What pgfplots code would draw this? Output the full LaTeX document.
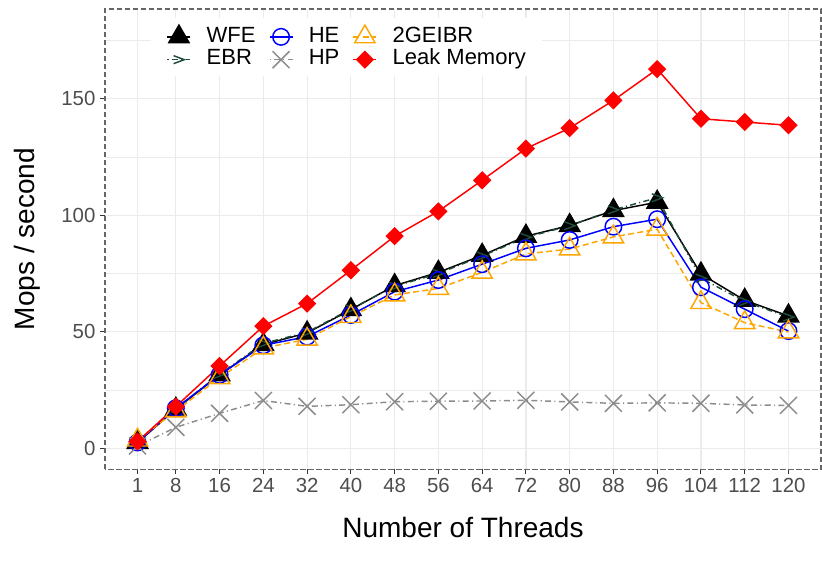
\documentclass[border=0pt]{standalone}
\usepackage{fontspec}
\setmainfont{Liberation Sans}
\usepackage{pgfplots}
\pgfplotsset{compat=1.18}

\definecolor{ticklab}{HTML}{4D4D4D}
\definecolor{gridc}{HTML}{EBEBEB}
\definecolor{ebrgreen}{HTML}{1E4D3B}
\definecolor{hpgray}{HTML}{8C8C8C}
\definecolor{gorange}{HTML}{FFA500}

% open ">" marker for EBR
\pgfdeclareplotmark{chevron}{%
  \pgfpathmoveto{\pgfqpoint{-\pgfplotmarksize}{0.75\pgfplotmarksize}}%
  \pgfpathlineto{\pgfqpoint{\pgfplotmarksize}{0pt}}%
  \pgfpathlineto{\pgfqpoint{-\pgfplotmarksize}{-0.75\pgfplotmarksize}}%
  \pgfusepathqstroke}

\pgfplotsset{
  wfe/.style={black, line width=1.1pt, mark=triangle*, mark size=8.8pt, mark options={solid, fill=black}},
  ebr/.style={ebrgreen, line width=1.1pt, dash pattern=on 0.8pt off 2.5pt on 4.5pt off 2.5pt, mark=chevron, mark size=4pt, mark options={solid}},
  he/.style={blue, line width=1.1pt, mark=o, mark size=6.2pt, mark options={solid}},
  hp/.style={hpgray, line width=1.1pt, dash pattern=on 0.8pt off 2.5pt on 4.5pt off 2.5pt, mark=x, mark size=9pt, mark options={solid}},
  geibr/.style={gorange, line width=1.1pt, dash pattern=on 4.5pt off 2.5pt, mark=triangle, mark size=8.8pt, mark options={solid}},
  leak/.style={red, line width=1.1pt, mark=square*, mark size=4.3pt, mark options={solid, rotate=45, fill=red}},
}

\begin{document}
\begin{tikzpicture}
\begin{axis}[
  scale only axis, width=537pt, height=345.2pt,
  xmin=-4.95, xmax=125.95, ymin=-9, ymax=188.5,
  axis line style={draw=black!60, line width=0.8pt, dash pattern=on 3.8pt off 2.2pt},
  xtick={1,8,16,24,32,40,48,56,64,72,80,88,96,104,112,120},
  ytick={0,50,100,150}, minor ytick={25,75,125,175},
  xtick pos=left, ytick pos=left,
  tick align=outside, major tick length=3.4pt, minor tick length=0pt,
  tick style={draw=black!80, line width=0.8pt, solid},
  grid=both,
  major grid style={gridc, line width=0.9pt, solid},
  minor grid style={gridc, line width=0.55pt, solid},
  /pgf/number format/assume math mode=true,
  ticklabel style={font=\fontsize{15.3}{18}\selectfont, text=ticklab, inner sep=0pt},
  xticklabel style={anchor=north, yshift=-3.3pt},
  yticklabel style={anchor=east, xshift=-3.6pt},
  xlabel={Number of Threads}, ylabel={Mops / second},
  every axis x label/.style={at={(rel axis cs:0.5,0)}, yshift=-51.5pt, anchor=base, font=\fontsize{21}{24}\selectfont},
  every axis y label/.style={at={(rel axis cs:0,0.5)}, xshift=-52.5pt, anchor=base, rotate=90, font=\fontsize{21}{24}\selectfont},
  legend columns=3,
  legend image code/.code={\draw[mark repeat=2, mark phase=2, #1] plot coordinates {(0pt,0pt) (8.6pt,0pt) (17.25pt,0pt)};},
  legend cell align=left,
  legend style={at={(rel axis cs:0,1)}, anchor=north west, xshift=34.1pt, yshift=-6.9pt,
    draw=none, fill=white, inner xsep=12pt, inner ysep=5pt,
    font=\fontsize{16.5}{18}\selectfont,
    nodes={inner sep=0pt, text height=11.5pt, text depth=3.5pt},
    column sep=11.6pt, row sep=2.1pt,
    /tikz/every even column/.append style={column sep=10pt}},
]
\coordinate (sw) at (rel axis cs:0,0);
\coordinate (ne) at (rel axis cs:1,1);

\addplot[wfe, forget plot] coordinates {(1,2.5) (8,16.8) (16,31.5) (24,44.5) (32,49.5) (40,59.5) (48,69.8) (56,75.5) (64,82.8) (72,91) (80,95.6) (88,102) (96,105.6) (104,74.8) (112,63.5) (120,56.8)};
\addplot[ebr, forget plot] coordinates {(1,2.5) (8,17) (16,31.8) (24,45) (32,49.8) (40,59.8) (48,69.5) (56,75) (64,82.5) (72,90.5) (80,95.5) (88,102.3) (96,107.5) (104,73) (112,63) (120,56.3)};
\addplot[he, forget plot] coordinates {(1,2.5) (8,17.2) (16,31.5) (24,44.2) (32,47.9) (40,57.2) (48,67.2) (56,72.2) (64,79) (72,85.8) (80,89.4) (88,95.1) (96,98.3) (104,69.1) (112,59.7) (120,50.3)};
\addplot[hp, forget plot] coordinates {(1,1) (8,9) (16,15) (24,20.5) (32,18) (40,18.7) (48,20) (56,20.2) (64,20.3) (72,20.6) (80,19.9) (88,19.3) (96,19.5) (104,19.3) (112,18.6) (120,18.4)};
\addplot[geibr, forget plot] coordinates {(1,3.5) (8,16) (16,30.3) (24,43) (32,46.8) (40,56.5) (48,65.8) (56,68.6) (64,75.5) (72,83.4) (80,85.5) (88,90.7) (96,94) (104,62.5) (112,53.9) (120,49.9)};
\addplot[leak, forget plot] coordinates {(1,2.9) (8,17.9) (16,35.3) (24,52.4) (32,62.1) (40,76.4) (48,91) (56,101.7) (64,115) (72,128.6) (80,137.4) (88,149.3) (96,162.7) (104,141.4) (112,140) (120,138.6)};

\addlegendimage{wfe}\addlegendentry{WFE}
\addlegendimage{he}\addlegendentry{HE}
\addlegendimage{geibr}\addlegendentry{2GEIBR}
\addlegendimage{ebr}\addlegendentry{EBR}
\addlegendimage{hp}\addlegendentry{HP}
\addlegendimage{leak}\addlegendentry{Leak Memory}
\end{axis}
\pgfresetboundingbox
\path ([shift={(-78.75pt,-71.8pt)}]sw) rectangle ([shift={(0.75pt,6.75pt)}]ne);
\end{tikzpicture}
\end{document}
